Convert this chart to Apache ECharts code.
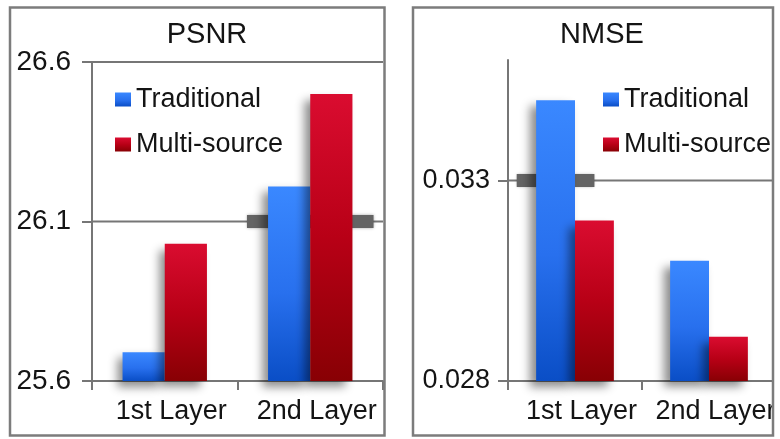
<!DOCTYPE html>
<html>
<head>
<meta charset="utf-8">
<title>PSNR and NMSE by layer</title>
<script src="https://cdn.jsdelivr.net/npm/echarts@6/dist/echarts.min.js"></script>
<style>
  html, body { margin: 0; padding: 0; background: #fff; }
  #chart { width: 780px; height: 439px; }
</style>
</head>
<body>
<div id="chart"></div>
<script>
// Layers compared in both panels
const categories = ['1st Layer', '2nd Layer'];
const seriesNames = ['Traditional', 'Multi-source'];

// PSNR (dB)
const psnrTraditional = [25.69, 26.21];
const psnrMultiSource = [26.03, 26.50];
const psnrTicks = [25.6, 26.1, 26.6];
const psnrRange = [25.6, 26.6];

// NMSE
const nmseTraditional = [0.0350, 0.0310];
const nmseMultiSource = [0.0320, 0.0291];
const nmseTicks = [0.028, 0.033];
const nmseRange = [0.028, 0.036];

const FONT = "'Liberation Sans', Arial, Helvetica, sans-serif";
const AXIS_COLOR = '#767676';
const TEXT_COLOR = '#141414';
const CAT_GAP = 0.42;   // barCategoryGap as a fraction of the band

const blueFill = new echarts.graphic.LinearGradient(0, 0, 0, 1, [
  { offset: 0, color: '#3a88ff' },
  { offset: 0.55, color: '#2870ee' },
  { offset: 1, color: '#0a4ec6' }
]);
const redFill = new echarts.graphic.LinearGradient(0, 0, 0, 1, [
  { offset: 0, color: '#da0c30' },
  { offset: 0.5, color: '#b80016' },
  { offset: 1, color: '#880004' }
]);

function barSeries(name, data, idx, fill) {
  return {
    type: 'bar',
    name: name,
    data: data,
    xAxisIndex: idx,
    yAxisIndex: idx,
    barGap: '0%',
    barCategoryGap: (CAT_GAP * 100) + '%',
    z: 3,
    itemStyle: {
      color: fill,
      shadowColor: 'rgba(0,0,0,0.45)',
      shadowBlur: 9,
      shadowOffsetX: -6,
      shadowOffsetY: 6
    }
  };
}

// Grid lines drawn behind the bars; the line thickens into a dark
// band around every bar that rises through it.
function gridSeries(idx, ticks, groups) {
  return {
    type: 'custom',
    xAxisIndex: idx,
    yAxisIndex: idx,
    z: 1,
    silent: true,
    data: categories.map((c, i) => i),
    renderItem: function (params, api) {
      const i = api.value(0);
      const cs = params.coordSys;
      const children = [];
      const lines = ticks.slice(1);
      if (i === 0) {
        lines.forEach(t => {
          const y = api.coord([0, t])[1];
          children.push({
            type: 'line',
            shape: { x1: cs.x, y1: y, x2: cs.x + cs.width, y2: y },
            style: { stroke: AXIS_COLOR, lineWidth: 2 }
          });
        });
      }
      const band = api.size([1, 0])[0];
      const barW = band * (1 - CAT_GAP) / groups.length;
      const pad = band * 0.145;
      lines.forEach(t => {
        const p = api.coord([i, t]);
        const left0 = p[0] - barW * groups.length / 2;
        let lo = null, hi = null;
        groups.forEach((g, k) => {
          if (g[i] > t) {
            const l = left0 + k * barW;
            if (lo === null) lo = l;
            hi = l + barW;
          }
        });
        if (lo !== null) {
          children.push({
            type: 'rect',
            shape: { x: lo - pad, y: p[1] - 6.5, width: (hi - lo) + 2 * pad, height: 13 },
            style: { fill: '#646464', shadowColor: 'rgba(0,0,0,0.35)', shadowBlur: 3 }
          });
        }
      });
      return { type: 'group', children: children };
    }
  };
}

function legendAt(left) {
  return {
    data: seriesNames, orient: 'vertical', left: left, top: 84, padding: 0,
    icon: 'rect', itemWidth: 16, itemHeight: 14, itemGap: 14,
    itemStyle: { shadowBlur: 0, shadowOffsetX: 0, shadowOffsetY: 0 },
    textStyle: { fontFamily: FONT, fontSize: 27, color: TEXT_COLOR, lineHeight: 31 }
  };
}

function titleAt(text, left) {
  return {
    text: text, left: left, top: 20, textAlign: 'center', padding: 0,
    textStyle: { fontFamily: FONT, fontSize: 29, fontWeight: 'normal', color: TEXT_COLOR }
  };
}

const option = {
  backgroundColor: '#ffffff',
  animation: false,
  title: [titleAt('PSNR', 207), titleAt('NMSE', 602)],
  legend: [legendAt(115), legendAt(603)],
  grid: [
    { left: 92, top: 62, width: 291, height: 319 },
    { left: 508, top: 60, width: 268, height: 321 }
  ],
  xAxis: [0, 1].map(i => ({
    type: 'category',
    gridIndex: i,
    data: categories,
    axisLine: { lineStyle: { color: AXIS_COLOR, width: 2 } },
    axisTick: { show: true, length: 9, lineStyle: { color: AXIS_COLOR, width: 2 } },
    axisLabel: {
      margin: 17, interval: 0, padding: [0, 0, 0, 13],
      fontFamily: FONT, fontSize: 27, color: TEXT_COLOR
    },
    splitLine: { show: false }
  })),
  yAxis: [
    { type: 'value', gridIndex: 0, min: psnrRange[0], max: psnrRange[1],
      axisLine: { show: true, lineStyle: { color: AXIS_COLOR, width: 2 } },
      axisTick: { show: true, length: 10, customValues: psnrTicks, lineStyle: { color: AXIS_COLOR, width: 2 } },
      axisLabel: { margin: 21, customValues: psnrTicks, formatter: v => v.toFixed(1),
        fontFamily: FONT, fontSize: 28, color: TEXT_COLOR },
      splitLine: { show: false } },
    { type: 'value', gridIndex: 1, min: nmseRange[0], max: nmseRange[1],
      axisLine: { show: true, lineStyle: { color: AXIS_COLOR, width: 2 } },
      axisTick: { show: true, length: 10, customValues: nmseTicks, lineStyle: { color: AXIS_COLOR, width: 2 } },
      axisLabel: { margin: 18, customValues: nmseTicks, formatter: v => v.toFixed(3),
        fontFamily: FONT, fontSize: 27, color: TEXT_COLOR },
      splitLine: { show: false } }
  ],
  series: [
    gridSeries(0, psnrTicks, [psnrTraditional, psnrMultiSource]),
    gridSeries(1, nmseTicks, [nmseTraditional, nmseMultiSource]),
    barSeries(seriesNames[0], psnrTraditional, 0, blueFill),
    barSeries(seriesNames[1], psnrMultiSource, 0, redFill),
    barSeries(seriesNames[0], nmseTraditional, 1, blueFill),
    barSeries(seriesNames[1], nmseMultiSource, 1, redFill)
  ],
  graphic: [
    // strip beyond the right panel's frame
    { type: 'rect', z: 90, silent: true,
      shape: { x: 774, y: 0, width: 6, height: 439 }, style: { fill: '#ffffff' } },
    // panel frames
    { type: 'rect', z: 100, silent: true,
      shape: { x: 10, y: 7.5, width: 374.5, height: 428 },
      style: { fill: null, stroke: '#7c7c7c', lineWidth: 2.5 } },
    { type: 'rect', z: 100, silent: true,
      shape: { x: 413, y: 7.5, width: 360, height: 428 },
      style: { fill: null, stroke: '#7c7c7c', lineWidth: 2.5 } }
  ]
};

const chart = echarts.init(document.getElementById('chart'), null, { renderer: 'canvas' });
chart.setOption(option);
</script>
</body>
</html>
